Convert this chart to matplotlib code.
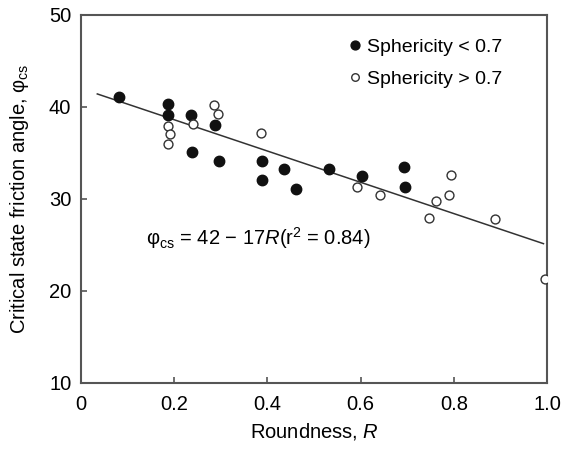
import numpy as np
import matplotlib
matplotlib.use("Agg")
import matplotlib.pyplot as plt

plt.rcParams["font.family"] = ["Liberation Sans", "DejaVu Sans"]
plt.rcParams["mathtext.fontset"] = "custom"
plt.rcParams["mathtext.rm"] = "Liberation Sans"
plt.rcParams["mathtext.it"] = "Liberation Sans:italic"

# sphericity < 0.7
R_low = [0.082, 0.186, 0.186, 0.235, 0.288, 0.238, 0.297, 0.388, 0.388, 0.436, 0.461,
         0.531, 0.603, 0.693, 0.695]
phi_low = [41.1, 40.3, 39.1, 39.1, 38.0, 35.1, 34.1, 34.1, 32.1, 33.3, 31.1,
           33.3, 32.5, 33.5, 31.3]

# sphericity > 0.7
R_high = [0.187, 0.191, 0.187, 0.241, 0.286, 0.293, 0.387, 0.593, 0.642, 0.762,
          0.789, 0.794, 0.746, 0.887, 0.995]
phi_high = [37.9, 37.0, 36.0, 38.1, 40.2, 39.25, 37.2, 31.3, 30.4, 29.8,
            30.4, 32.6, 27.9, 27.8, 21.3]

# regression phi_cs = 42 - 17 R
a, b = 42, -17
fit_R = np.array([0.035, 0.992])

fs = 14.5

fig = plt.figure(figsize=(5.64, 4.5), dpi=100)
ax = fig.add_axes([0.1436, 0.149, 0.8266, 0.818])

ax.plot(fit_R, a + b * fit_R, color="#333333", lw=1.1, zorder=1)
ax.plot(R_low, phi_low, "o", ms=7.5, color="#111111", mec="#111111",
        label="Sphericity < 0.7", zorder=3)
ax.plot(R_high, phi_high, "o", ms=6.4, mfc="white", mec="#333333", mew=1.0,
        label="Sphericity > 0.7", zorder=3)

ax.text(0.14, 25.8, r"φ$_{\rm cs}$ = 42 − 17$\it{R}$(r$^{2}$ = 0.84)",
        fontsize=fs, va="center")

ax.set_xlim(0, 1.0)
ax.set_ylim(10, 50)
ax.set_xticks([0, 0.2, 0.4, 0.6, 0.8, 1.0])
ax.set_xticklabels(["0", "0.2", "0.4", "0.6", "0.8", "1.0"])
ax.set_yticks([10, 20, 30, 40, 50])
ax.tick_params(direction="in", length=4.5, width=1.2, color="#555555",
               labelsize=fs)
ax.tick_params(axis="x", pad=9)
ax.tick_params(axis="y", pad=7)
for s in ax.spines.values():
    s.set_color("#555555")
    s.set_linewidth(1.5)

ax.set_xlabel(r"Roundness, $\it{R}$", fontsize=fs, labelpad=5)
ax.set_ylabel(r"Critical state friction angle, φ$_{\rm cs}$", fontsize=fs, labelpad=13)

ax.legend(loc="upper left", frameon=False, fontsize=14, handletextpad=0.15,
          handlelength=1.0, borderpad=0, borderaxespad=0, labelspacing=0.75,
          markerscale=0.85, bbox_to_anchor=(0.566, 0.937))

fig.savefig("out.png", dpi=100)
